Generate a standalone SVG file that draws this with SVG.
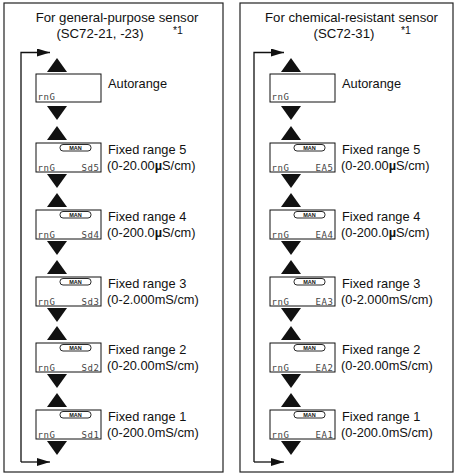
<svg xmlns="http://www.w3.org/2000/svg" xmlns:xlink="http://www.w3.org/1999/xlink" width="456" height="475" viewBox="0 0 456 475">
<style>
.panel{fill:#fff;stroke:#222;stroke-width:1.2}
.box{fill:#fff;stroke:#111;stroke-width:1}
.tab{fill:#fff;stroke:#111;stroke-width:0.9}
.man{font-family:"Liberation Sans",Arial,sans-serif;font-size:5.5px;font-weight:bold;fill:#111;text-anchor:middle}
.seg{font-family:"DejaVu Sans Mono",monospace;font-size:9px;fill:#444;letter-spacing:0.6px}
.lbl{font-family:"Liberation Sans",Arial,sans-serif;font-size:12.8px;fill:#111}
.ttl{font-family:"Liberation Sans",Arial,sans-serif;font-size:13.2px;fill:#111;text-anchor:middle}
.sup{font-family:"Liberation Sans",Arial,sans-serif;font-size:10.5px;fill:#111}
.loop{fill:none;stroke:#111;stroke-width:1.3}
.tri{fill:#111}
</style>
<defs>
<path id="tu" d="M0,0 L10,14 L-10,14 Z"/>
<path id="td" d="M-10,0 L10,0 L0,14 Z"/>
<marker id="ah" markerWidth="13" markerHeight="8" refX="13" refY="4" orient="auto" markerUnits="userSpaceOnUse"><path d="M0,0 L13,4 L0,8 Z" fill="#111"/></marker>
</defs>

<rect class="panel" x="4" y="3" width="219" height="469"/>
<rect class="panel" x="240" y="3" width="213" height="469"/>

<g id="left-title">
<text class="ttl" x="117" y="22">For general-purpose sensor</text>
<text class="ttl" x="100" y="38">(SC72-21, -23)</text>
<text class="sup" x="173" y="34">*1</text>
</g>

<g id="l-auto">
<rect class="box" x="36" y="74" width="65" height="28"/>
<text class="seg" x="37.5" y="100">rnG</text>
<text class="lbl" x="108" y="88">Autorange</text>
</g>
<g id="l-r5">
<rect class="box" x="36" y="143" width="65" height="29"/>
<rect class="tab" x="60" y="144.5" width="31" height="6.5" rx="3"/>
<text class="man" x="75.5" y="150">MAN</text>
<text class="seg" x="37.5" y="170.5">rnG</text>
<text class="seg" x="99.5" y="170.5" text-anchor="end">Sd5</text>
<text class="lbl" x="108" y="154">Fixed range 5</text>
<text class="lbl" x="107" y="170">(0-20.00<tspan font-weight="bold">µ</tspan>S/cm)</text>
</g>
<g id="l-r4">
<rect class="box" x="36" y="210" width="65" height="29"/>
<rect class="tab" x="60" y="211.5" width="31" height="6.5" rx="3"/>
<text class="man" x="75.5" y="217">MAN</text>
<text class="seg" x="37.5" y="237.5">rnG</text>
<text class="seg" x="99.5" y="237.5" text-anchor="end">Sd4</text>
<text class="lbl" x="108" y="221">Fixed range 4</text>
<text class="lbl" x="107" y="237">(0-200.0<tspan font-weight="bold">µ</tspan>S/cm)</text>
</g>
<g id="l-r3">
<rect class="box" x="36" y="277" width="65" height="29"/>
<rect class="tab" x="60" y="278.5" width="31" height="6.5" rx="3"/>
<text class="man" x="75.5" y="284">MAN</text>
<text class="seg" x="37.5" y="304.5">rnG</text>
<text class="seg" x="99.5" y="304.5" text-anchor="end">Sd3</text>
<text class="lbl" x="108" y="288">Fixed range 3</text>
<text class="lbl" x="107" y="304">(0-2.000mS/cm)</text>
</g>
<g id="l-r2">
<rect class="box" x="36" y="343" width="65" height="29"/>
<rect class="tab" x="60" y="344.5" width="31" height="6.5" rx="3"/>
<text class="man" x="75.5" y="350">MAN</text>
<text class="seg" x="37.5" y="370.5">rnG</text>
<text class="seg" x="99.5" y="370.5" text-anchor="end">Sd2</text>
<text class="lbl" x="108" y="354">Fixed range 2</text>
<text class="lbl" x="107" y="370">(0-20.00mS/cm)</text>
</g>
<g id="l-r1">
<rect class="box" x="36" y="410" width="65" height="29"/>
<rect class="tab" x="60" y="411.5" width="31" height="6.5" rx="3"/>
<text class="man" x="75.5" y="417">MAN</text>
<text class="seg" x="37.5" y="437.5">rnG</text>
<text class="seg" x="99.5" y="437.5" text-anchor="end">Sd1</text>
<text class="lbl" x="108" y="421">Fixed range 1</text>
<text class="lbl" x="107" y="437">(0-200.0mS/cm)</text>
</g>

<g id="right-title">
<text class="ttl" x="351.5" y="22">For chemical-resistant sensor</text>
<text class="ttl" x="344" y="38">(SC72-31)</text>
<text class="sup" x="401" y="34">*1</text>
</g>

<g id="r-auto">
<rect class="box" x="270" y="74" width="65" height="28"/>
<text class="seg" x="271.5" y="100">rnG</text>
<text class="lbl" x="342" y="88">Autorange</text>
</g>
<g id="r-r5">
<rect class="box" x="270" y="143" width="65" height="29"/>
<rect class="tab" x="294" y="144.5" width="31" height="6.5" rx="3"/>
<text class="man" x="309.5" y="150">MAN</text>
<text class="seg" x="271.5" y="170.5">rnG</text>
<text class="seg" x="333.5" y="170.5" text-anchor="end">EA5</text>
<text class="lbl" x="342" y="154">Fixed range 5</text>
<text class="lbl" x="341" y="170">(0-20.00<tspan font-weight="bold">µ</tspan>S/cm)</text>
</g>
<g id="r-r4">
<rect class="box" x="270" y="210" width="65" height="29"/>
<rect class="tab" x="294" y="211.5" width="31" height="6.5" rx="3"/>
<text class="man" x="309.5" y="217">MAN</text>
<text class="seg" x="271.5" y="237.5">rnG</text>
<text class="seg" x="333.5" y="237.5" text-anchor="end">EA4</text>
<text class="lbl" x="342" y="221">Fixed range 4</text>
<text class="lbl" x="341" y="237">(0-200.0<tspan font-weight="bold">µ</tspan>S/cm)</text>
</g>
<g id="r-r3">
<rect class="box" x="270" y="277" width="65" height="29"/>
<rect class="tab" x="294" y="278.5" width="31" height="6.5" rx="3"/>
<text class="man" x="309.5" y="284">MAN</text>
<text class="seg" x="271.5" y="304.5">rnG</text>
<text class="seg" x="333.5" y="304.5" text-anchor="end">EA3</text>
<text class="lbl" x="342" y="288">Fixed range 3</text>
<text class="lbl" x="341" y="304">(0-2.000mS/cm)</text>
</g>
<g id="r-r2">
<rect class="box" x="270" y="343" width="65" height="29"/>
<rect class="tab" x="294" y="344.5" width="31" height="6.5" rx="3"/>
<text class="man" x="309.5" y="350">MAN</text>
<text class="seg" x="271.5" y="370.5">rnG</text>
<text class="seg" x="333.5" y="370.5" text-anchor="end">EA2</text>
<text class="lbl" x="342" y="354">Fixed range 2</text>
<text class="lbl" x="341" y="370">(0-20.00mS/cm)</text>
</g>
<g id="r-r1">
<rect class="box" x="270" y="410" width="65" height="29"/>
<rect class="tab" x="294" y="411.5" width="31" height="6.5" rx="3"/>
<text class="man" x="309.5" y="417">MAN</text>
<text class="seg" x="271.5" y="437.5">rnG</text>
<text class="seg" x="333.5" y="437.5" text-anchor="end">EA1</text>
<text class="lbl" x="342" y="421">Fixed range 1</text>
<text class="lbl" x="341" y="437">(0-200.0mS/cm)</text>
</g>

<g id="connectors">
<path class="loop" d="M21,462 V52.5 H50" marker-end="url(#ah)"/>
<path class="loop" d="M21,462 H50" marker-end="url(#ah)"/>
<path class="loop" d="M254,462 V52.5 H284" marker-end="url(#ah)"/>
<path class="loop" d="M254,462 H284" marker-end="url(#ah)"/>
<g class="tri">
<use xlink:href="#tu" x="57" y="58"/>
<use xlink:href="#td" x="57" y="106"/>
<use xlink:href="#tu" x="57" y="126"/>
<use xlink:href="#td" x="57" y="174"/>
<use xlink:href="#tu" x="57" y="193"/>
<use xlink:href="#td" x="57" y="241"/>
<use xlink:href="#tu" x="57" y="260"/>
<use xlink:href="#td" x="57" y="308"/>
<use xlink:href="#tu" x="57" y="326"/>
<use xlink:href="#td" x="57" y="374"/>
<use xlink:href="#tu" x="57" y="393"/>
<use xlink:href="#td" x="57" y="441"/>
<use xlink:href="#tu" x="291" y="58"/>
<use xlink:href="#td" x="291" y="106"/>
<use xlink:href="#tu" x="291" y="126"/>
<use xlink:href="#td" x="291" y="174"/>
<use xlink:href="#tu" x="291" y="193"/>
<use xlink:href="#td" x="291" y="241"/>
<use xlink:href="#tu" x="291" y="260"/>
<use xlink:href="#td" x="291" y="308"/>
<use xlink:href="#tu" x="291" y="326"/>
<use xlink:href="#td" x="291" y="374"/>
<use xlink:href="#tu" x="291" y="393"/>
<use xlink:href="#td" x="291" y="441"/>
</g>
</g>
</svg>
